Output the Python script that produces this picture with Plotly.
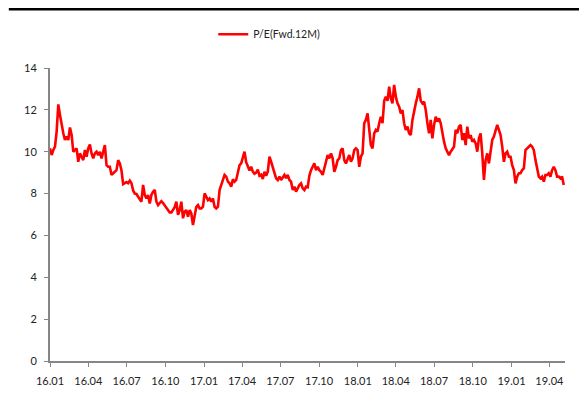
import pandas as pd
import plotly.graph_objects as go

series_name = "P/E(Fwd.12M)"
start_date = "2016-01-01"
end_date = "2019-05-05"

pe_values = [
    10.16, 9.84, 10.08, 10.24, 10.96, 12.26, 11.75, 11.28, 10.88, 10.56,
    10.72, 10.56, 11.16, 10.80, 10.00, 10.08, 10.16, 9.52, 9.92, 9.76,
    9.60, 10.08, 9.76, 10.16, 10.35, 9.92, 9.68, 9.92, 10.00, 9.84,
    10.00, 9.68, 10.08, 10.32, 9.36, 9.28, 9.28, 8.89, 8.97, 9.04,
    9.12, 9.60, 9.44, 9.10, 8.45, 8.50, 8.55, 8.50, 8.62, 8.49,
    8.15, 8.00, 7.98, 7.85, 7.72, 7.61, 8.41, 7.93, 7.77, 7.93,
    7.53, 7.93, 8.09, 8.17, 7.61, 7.45, 7.55, 7.64, 7.55, 7.45,
    7.35, 7.21, 7.10, 7.10, 7.21, 7.35, 7.61, 6.98, 7.21, 7.61,
    6.82, 7.13, 7.21, 6.90, 7.21, 7.05, 6.50, 6.98, 7.37, 7.45,
    7.29, 7.29, 7.37, 8.01, 7.85, 7.69, 7.77, 7.61, 7.77, 7.37,
    7.29, 7.37, 8.17, 8.41, 8.57, 8.89, 8.81, 8.57, 8.49, 8.33,
    8.68, 8.57, 8.65, 8.97, 9.36, 9.44, 9.68, 10.00, 9.50, 9.30,
    9.10, 9.28, 9.05, 8.95, 9.00, 9.15, 8.85, 8.90, 8.70, 9.04,
    8.85, 9.05, 9.76, 9.52, 9.28, 9.04, 8.73, 8.65, 8.81, 8.65,
    8.81, 8.89, 8.73, 8.89, 8.65, 8.57, 8.17, 8.33, 8.09, 8.25,
    8.41, 8.49, 8.25, 8.17, 8.33, 8.30, 8.85, 9.12, 9.28, 9.44,
    9.12, 9.28, 9.12, 9.04, 8.89, 9.20, 9.52, 9.84, 9.68, 9.92,
    9.68, 9.04, 9.28, 9.60, 9.68, 10.08, 10.16, 9.60, 9.44, 9.68,
    9.84, 9.52, 9.68, 10.08, 10.16, 10.08, 9.28, 9.76, 9.92, 11.36,
    11.52, 11.83, 11.04, 10.32, 10.16, 10.88, 11.04, 10.96, 11.36, 11.67,
    11.36, 12.43, 12.63, 12.43, 13.11, 12.55, 12.31, 13.19, 12.63, 12.31,
    12.15, 11.83, 11.99, 11.36, 11.04, 11.20, 10.88, 10.80, 11.52, 11.99,
    12.31, 12.63, 13.03, 12.43, 12.31, 12.39, 11.99, 11.36, 10.88, 11.52,
    10.64, 11.28, 11.67, 11.44, 11.59, 11.36, 10.80, 10.48, 10.16, 10.00,
    9.84, 10.00, 10.16, 10.24, 11.04, 10.88, 11.20, 11.28, 10.56, 10.88,
    10.32, 11.20, 10.64, 10.80, 10.48, 10.56, 10.40, 10.00, 10.64, 10.88,
    9.92, 8.65, 9.60, 9.92, 9.44, 10.16, 10.56, 10.72, 11.04, 11.28,
    11.04, 10.80, 10.24, 9.52, 9.92, 10.00, 9.76, 9.76, 9.36, 9.12,
    8.49, 8.81, 8.97, 8.97, 9.12, 9.20, 10.08, 10.16, 10.24, 10.32,
    10.24, 10.08, 9.60, 9.20, 8.81, 8.73, 8.81, 8.57, 8.89, 8.89,
    8.97, 8.81, 9.12, 9.28, 9.12, 8.81, 8.81, 8.73, 8.81, 8.41,
]

tick_dates = ["2016-01-01", "2016-04-01", "2016-07-01", "2016-10-01",
              "2017-01-01", "2017-04-01", "2017-07-01", "2017-10-01",
              "2018-01-01", "2018-04-01", "2018-07-01", "2018-10-01",
              "2019-01-01", "2019-04-01"]
tick_labels = ["16.01", "16.04", "16.07", "16.10", "17.01", "17.04", "17.07",
               "17.10", "18.01", "18.04", "18.07", "18.10", "19.01", "19.04"]
y_ticks = [0, 2, 4, 6, 8, 10, 12, 14]

dates = pd.date_range(start_date, end_date, periods=len(pe_values))

FONT = "Lato, 'Liberation Sans', sans-serif"
AXIS_COLOR = "#868686"
TEXT_COLOR = "#222222"

fig = go.Figure()
fig.add_trace(go.Scatter(
    x=dates, y=pe_values, mode="lines", name=series_name,
    line=dict(color="#FF0000", width=2.6),
))

fig.update_layout(
    width=587, height=399,
    margin=dict(l=42, r=30, t=60, b=46),
    paper_bgcolor="white", plot_bgcolor="white",
    font=dict(family=FONT, size=11, color=TEXT_COLOR),
    showlegend=True,
    legend=dict(orientation="h", x=0.317, xanchor="left", y=1.115, yanchor="middle",
                bgcolor="rgba(0,0,0,0)", font=dict(size=10.5, color=TEXT_COLOR)),
    xaxis=dict(
        type="date", range=["2016-01-01", "2019-05-08"],
        tickvals=tick_dates, ticktext=tick_labels,
        showgrid=False, zeroline=False,
        showline=True, linecolor=AXIS_COLOR, linewidth=2,
        ticks="outside", ticklen=4, tickwidth=1, tickcolor=AXIS_COLOR,
        ticklabelstandoff=5,
        tickfont=dict(size=11, color=TEXT_COLOR),
    ),
    yaxis=dict(
        range=[0, 14], tickvals=y_ticks,
        showgrid=False, zeroline=False,
        showline=True, linecolor=AXIS_COLOR, linewidth=2,
        ticks="outside", ticklen=4, tickwidth=1, tickcolor=AXIS_COLOR,
        ticklabelstandoff=5,
        tickfont=dict(size=11, color=TEXT_COLOR),
    ),
    shapes=[dict(type="line", xref="paper", yref="paper",
                 x0=-0.08, x1=1.06, y0=1.201, y1=1.201,
                 line=dict(color="black", width=3))],
)

fig.write_html("out.html")
